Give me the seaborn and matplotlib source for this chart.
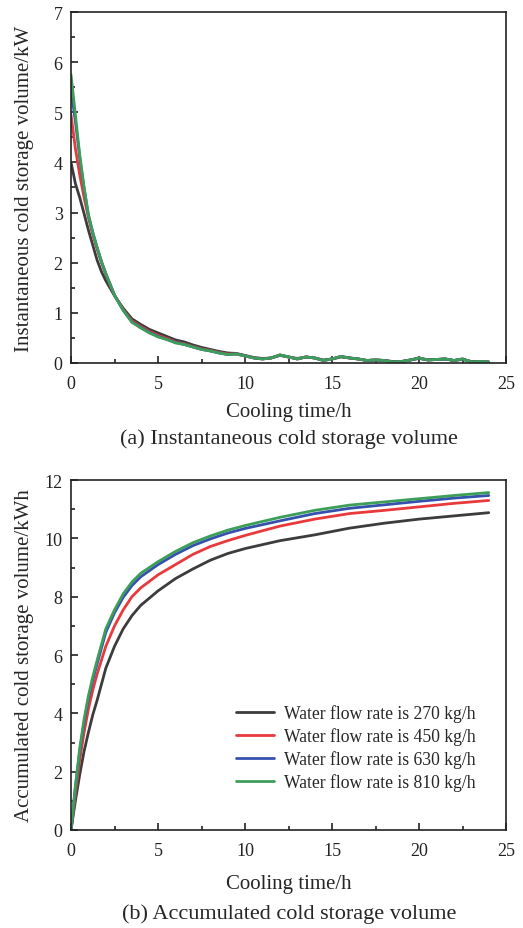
import numpy as np
import pandas as pd
import matplotlib
matplotlib.use('Agg')
import matplotlib.pyplot as plt
from matplotlib.ticker import MultipleLocator
import seaborn as sns

# flow rate labels and colours
labels = ['Water flow rate is 270 kg/h', 'Water flow rate is 450 kg/h',
          'Water flow rate is 630 kg/h', 'Water flow rate is 810 kg/h']
colors = ['#3c3c3c', '#e83a3c', '#3650b0', '#3c9e58']

# (a) instantaneous cold storage volume, kW
hours_a = [0, 0.25, 0.5, 0.75, 1, 1.25, 1.5, 1.75, 2, 2.5, 3, 3.5, 4, 4.5, 5, 5.5, 6, 6.5,
           7, 7.5, 8, 8.5, 9, 9.5, 10, 10.5, 11, 11.5, 12, 12.5, 13, 13.5, 14, 14.5, 15,
           15.5, 16, 16.5, 17, 17.5, 18, 18.5, 19, 19.5, 20, 20.5, 21, 21.5, 22, 22.5, 23,
           23.5, 24]
inst_270 = [4.0, 3.58, 3.3, 2.98, 2.65, 2.35, 2.05, 1.82, 1.64, 1.34, 1.09, 0.88, 0.77, 0.67,
            0.6, 0.53, 0.46, 0.42, 0.36, 0.31, 0.27, 0.23, 0.2, 0.19, 0.15, 0.11, 0.09, 0.1,
            0.15, 0.12, 0.09, 0.12, 0.1, 0.06, 0.08, 0.12, 0.1, 0.08, 0.05, 0.06, 0.05, 0.03,
            0.03, 0.06, 0.09, 0.06, 0.07, 0.08, 0.05, 0.07, 0.03, 0.03, 0.02]
inst_450 = [4.95, 4.28, 3.75, 3.3, 2.9, 2.56, 2.27, 2.0, 1.77, 1.35, 1.06, 0.84, 0.73, 0.63,
            0.55, 0.49, 0.42, 0.38, 0.33, 0.28, 0.25, 0.21, 0.18, 0.18, 0.14, 0.1, 0.08, 0.1,
            0.16, 0.12, 0.08, 0.12, 0.1, 0.05, 0.08, 0.13, 0.1, 0.08, 0.05, 0.06, 0.05, 0.02,
            0.03, 0.06, 0.1, 0.06, 0.07, 0.08, 0.05, 0.08, 0.02, 0.03, 0.02]
inst_630 = [5.45, 4.82, 4.1, 3.48, 2.95, 2.6, 2.3, 2.02, 1.78, 1.35, 1.05, 0.82, 0.71, 0.61,
            0.53, 0.47, 0.41, 0.37, 0.32, 0.27, 0.24, 0.2, 0.17, 0.18, 0.14, 0.1, 0.08, 0.1,
            0.16, 0.12, 0.08, 0.12, 0.1, 0.05, 0.08, 0.13, 0.1, 0.08, 0.05, 0.06, 0.05, 0.02,
            0.03, 0.06, 0.1, 0.06, 0.07, 0.08, 0.05, 0.08, 0.02, 0.03, 0.02]
inst_810 = [5.75, 4.95, 4.15, 3.5, 2.95, 2.6, 2.3, 2.02, 1.78, 1.35, 1.05, 0.81, 0.7, 0.6,
            0.52, 0.47, 0.4, 0.37, 0.32, 0.27, 0.24, 0.2, 0.17, 0.18, 0.14, 0.1, 0.08, 0.1,
            0.16, 0.12, 0.08, 0.12, 0.1, 0.05, 0.08, 0.13, 0.1, 0.08, 0.05, 0.06, 0.05, 0.02,
            0.03, 0.06, 0.1, 0.06, 0.07, 0.08, 0.05, 0.08, 0.02, 0.03, 0.02]

# (b) accumulated cold storage volume, kWh
hours_b = [0, 0.25, 0.5, 0.75, 1, 1.25, 1.5, 2, 2.5, 3, 3.5, 4, 5, 6, 7, 8, 9, 10, 12, 14,
           16, 18, 20, 22, 24]
acc_270 = [0, 1.0, 1.9, 2.7, 3.35, 3.95, 4.45, 5.55, 6.3, 6.9, 7.35, 7.7, 8.2, 8.62, 8.95,
           9.25, 9.48, 9.65, 9.92, 10.12, 10.35, 10.52, 10.66, 10.77, 10.88]
acc_450 = [0, 1.25, 2.4, 3.35, 4.15, 4.8, 5.35, 6.3, 7.0, 7.55, 8.0, 8.3, 8.75, 9.1, 9.45,
           9.72, 9.92, 10.1, 10.42, 10.66, 10.85, 10.96, 11.08, 11.2, 11.3]
acc_630 = [0, 1.45, 2.7, 3.7, 4.5, 5.15, 5.7, 6.78, 7.45, 7.98, 8.38, 8.68, 9.1, 9.45, 9.75,
           9.98, 10.18, 10.34, 10.6, 10.85, 11.03, 11.15, 11.27, 11.38, 11.47]
acc_810 = [0, 1.5, 2.8, 3.8, 4.6, 5.25, 5.82, 6.9, 7.55, 8.1, 8.5, 8.8, 9.2, 9.55, 9.85,
           10.08, 10.28, 10.44, 10.72, 10.96, 11.14, 11.25, 11.36, 11.47, 11.57]

df_a = pd.concat([pd.DataFrame({'t': hours_a, 'v': v, 'rate': lab})
                  for v, lab in zip([inst_270, inst_450, inst_630, inst_810], labels)])
df_b = pd.concat([pd.DataFrame({'t': hours_b, 'v': v, 'rate': lab})
                  for v, lab in zip([acc_270, acc_450, acc_630, acc_810], labels)])

sns.set_style('ticks')
plt.rcParams['font.family'] = ['Liberation Serif', 'DejaVu Serif']

fig = plt.figure(figsize=(5.23, 9.29), dpi=100)
ax1 = fig.add_axes([0.1358, 0.6082, 0.832, 0.3778])
ax2 = fig.add_axes([0.1358, 0.1055, 0.832, 0.3767])

pal = dict(zip(labels, colors))
sns.lineplot(data=df_a, x='t', y='v', hue='rate', palette=pal, lw=2, ax=ax1, legend=False)
sns.lineplot(data=df_b, x='t', y='v', hue='rate', palette=pal, lw=2, ax=ax2)

for ax, top, major, minor in [(ax1, 7, 1, 0.5), (ax2, 12, 2, 1)]:
    ax.set_xlim(0, 25)
    ax.set_ylim(0, top)
    ax.xaxis.set_major_locator(MultipleLocator(5))
    ax.xaxis.set_minor_locator(MultipleLocator(2.5))
    ax.yaxis.set_major_locator(MultipleLocator(major))
    ax.yaxis.set_minor_locator(MultipleLocator(minor))
    ax.tick_params(which='both', direction='in', top=False, right=False, labelsize=13,
                   colors='#222222', width=1.2)
    ax.tick_params(axis='x', which='major', pad=9)
    ax.tick_params(axis='y', which='major', pad=6)
    ax.tick_params(which='major', length=5)
    ax.tick_params(which='minor', length=3)
    for s in ax.spines.values():
        s.set_linewidth(1.2)
        s.set_color('#222222')
    ax.set_xlabel('Cooling time/h', fontsize=15)

ax1.xaxis.set_label_coords(0.5, -0.110)
ax2.xaxis.set_label_coords(0.5, -0.125)
ax1.set_ylabel('Instantaneous cold storage volume/kW', fontsize=15)
ax2.set_ylabel('Accumulated cold storage volume/kWh', fontsize=15)
ax1.yaxis.set_label_coords(-0.085, 0.5)
ax2.yaxis.set_label_coords(-0.085, 0.5)

leg = ax2.legend(loc='upper left', bbox_to_anchor=(0.379, 0.36), frameon=False,
                 borderpad=0, borderaxespad=0, fontsize=12.7, handlelength=2.15,
                 handletextpad=0.6, labelspacing=0.3)
for line in leg.get_lines():
    line.set_linewidth(2)

fig.text(0.552, 1 - 439 / 929, '(a) Instantaneous cold storage volume', ha='center',
         va='center', fontsize=16)
fig.text(0.552, 1 - 914 / 929, '(b) Accumulated cold storage volume', ha='center',
         va='center', fontsize=16)

fig.savefig('out.png', dpi=100)
